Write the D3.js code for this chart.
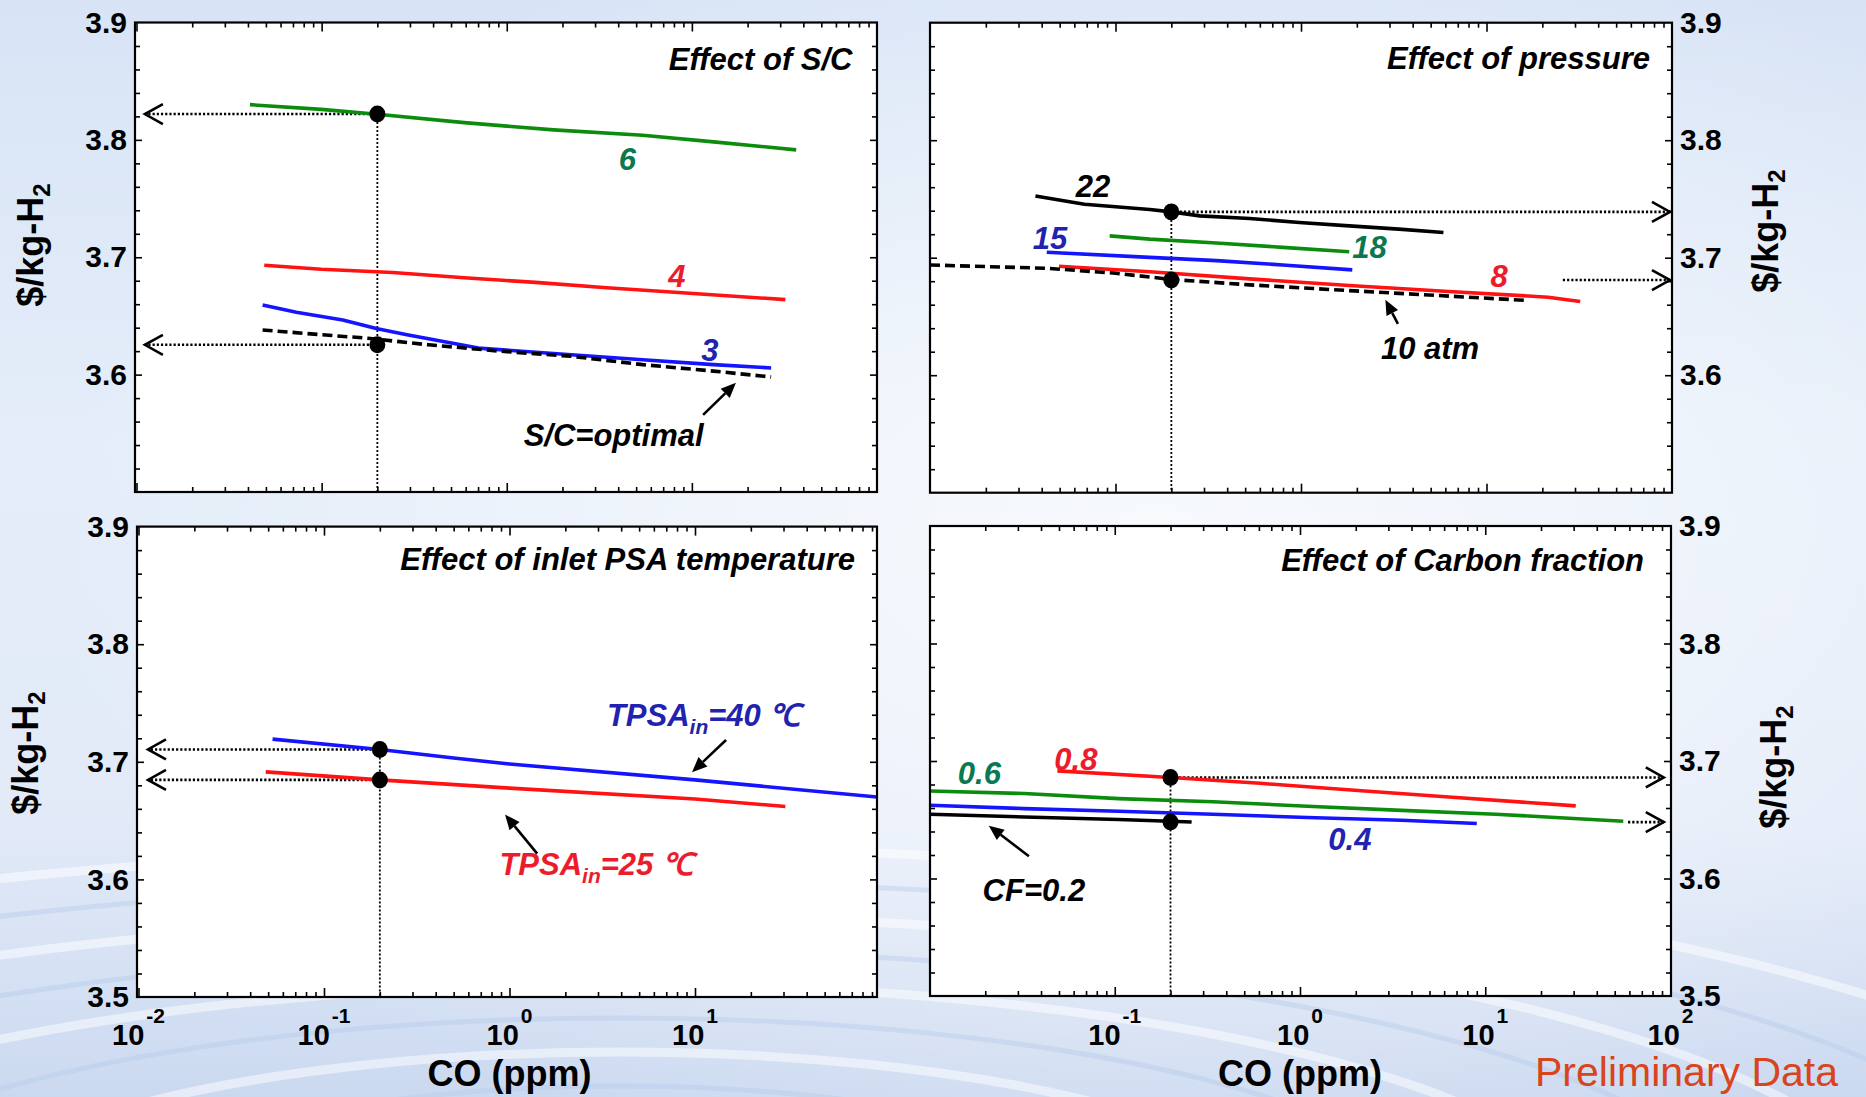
<!DOCTYPE html>
<html><head><meta charset="utf-8">
<script src="https://cdn.jsdelivr.net/npm/d3@7"></script>
<style>
html,body{margin:0;padding:0;background:#dfe8f7;overflow:hidden;}
svg{display:block;}
text{font-family:"Liberation Sans",Arial,Helvetica,sans-serif;}
</style></head><body>
<svg id="chart" width="1866" height="1097"></svg>
<script>
// ---------------- DATA ----------------
const yMajorTicks = [3.5, 3.6, 3.7, 3.8, 3.9];
const yMinorTicks = [3.52,3.54,3.56,3.58,3.62,3.64,3.66,3.68,3.72,3.74,3.76,3.78,3.82,3.84,3.86,3.88];
const xMajorTicks = [0.01, 0.1, 1, 10, 100];
const xMinorTicks = [0.02,0.03,0.04,0.05,0.06,0.07,0.08,0.09,0.2,0.3,0.4,0.5,0.6,0.7,0.8,0.9,2,3,4,5,6,7,8,9,20,30,40,50,60,70,80,90];
const xTickExponents = ["-2", "-1", "0", "1", "2"];

// Effect of S/C
const scOptCO   = [0.048, 0.0995, 0.178, 0.378, 0.918, 2.23, 5.42, 13.1, 26.8];
const scOptCost = [3.638, 3.634, 3.631, 3.6254, 3.620, 3.6156, 3.6085, 3.603, 3.598];
const sc3CO     = [0.048, 0.073, 0.13, 0.2, 0.289, 0.703, 2.23, 5.42, 13.1, 26.8];
const sc3Cost   = [3.6593, 3.6531, 3.6466, 3.639, 3.634, 3.6226, 3.617, 3.6127, 3.6085, 3.6057];
const sc4CO     = [0.049, 0.0996, 0.242, 0.589, 1.43, 3.47, 8.45, 32];
const sc4Cost   = [3.6932, 3.6898, 3.687, 3.6825, 3.6786, 3.674, 3.670, 3.6639];
const sc6CO     = [0.041, 0.0996, 0.2, 0.589, 1.79, 5.42, 13.1, 36.6];
const sc6Cost   = [3.830, 3.826, 3.8218, 3.8147, 3.8085, 3.804, 3.7983, 3.7915];
const scPointCost = [3.822, 3.6254];

// Effect of pressure
const p10CO   = [0.01, 0.0426, 0.1, 0.2, 0.528, 1.82, 6.26, 16.8];
const p10Cost = [3.6938, 3.691, 3.6868, 3.6815, 3.6769, 3.672, 3.6673, 3.6636];
const p8CO    = [0.0496, 0.153, 0.528, 1.82, 6.26, 21.5, 32];
const p8Cost  = [3.6927, 3.6881, 3.682, 3.6763, 3.6712, 3.6664, 3.6627];
const p15CO   = [0.0426, 0.153, 0.35, 0.797, 1.89];
const p15Cost = [3.7046, 3.7003, 3.6975, 3.6938, 3.6896];
const p18CO   = [0.093, 0.153, 0.35, 0.797, 1.82];
const p18Cost = [3.7186, 3.7158, 3.7125, 3.7088, 3.7051];
const p22CO   = [0.037, 0.068, 0.153, 0.2, 0.285, 0.528, 0.98, 1.82, 3.37, 5.86];
const p22Cost = [3.7525, 3.7455, 3.741, 3.739, 3.7356, 3.7334, 3.730, 3.7271, 3.7243, 3.7215];
const pPointCost = [3.739, 3.681];

// Effect of inlet PSA temperature
const t40CO   = [0.0528, 0.2, 0.5, 1, 10, 96];
const t40Cost = [3.7193, 3.7105, 3.7032, 3.6982, 3.6846, 3.670];
const t25CO   = [0.0485, 0.2, 1, 10, 30.7];
const t25Cost = [3.6914, 3.6846, 3.6776, 3.6684, 3.662];
const tPointCost = [3.7105, 3.6846];

// Effect of Carbon fraction
const cf08CO   = [0.049, 0.2, 0.608, 1.97, 6.35, 30.8];
const cf08Cost = [3.6916, 3.686, 3.681, 3.6751, 3.6694, 3.6618];
const cf06CO   = [0.01, 0.0325, 0.105, 0.339, 1.095, 3.53, 11.4, 55.6];
const cf06Cost = [3.6745, 3.6723, 3.668, 3.6653, 3.6615, 3.658, 3.6547, 3.6487];
const cf04CO   = [0.01, 0.0325, 0.105, 0.339, 1.095, 3.53, 9.0];
const cf04Cost = [3.6623, 3.6595, 3.6572, 3.6547, 3.6519, 3.6496, 3.6468];
const cf02CO   = [0.01, 0.0325, 0.105, 0.26];
const cf02Cost = [3.6547, 3.6524, 3.6502, 3.6481];
const cfPointCost = [3.686, 3.648];

const operatingCO = 0.2;

// ---------------- STYLE ----------------
const C = {
  green:"#0c8c0c", red:"#ff1212", blue:"#1414ff", black:"#000",
  lGreen:"#0a7850", lRed:"#ec1c2c", lBlue:"#2222b0"
};
const zip = (a,b)=>a.map((v,i)=>[v,b[i]]);

const W=1866,H=1097;
const svg=d3.select("#chart");
const defs=svg.append("defs");

// background
const lg=defs.append("linearGradient").attr("id","bgGrad").attr("x1",0).attr("y1",0).attr("x2",0).attr("y2",1);
[[0,"#d8e4f6"],[0.4,"#e4edf9"],[0.75,"#e2eaf8"],[1,"#cbd9f0"]].forEach(([o,c])=>lg.append("stop").attr("offset",o).attr("stop-color",c));
svg.append("rect").attr("width",W).attr("height",H).attr("fill","url(#bgGrad)");
const rg=defs.append("radialGradient").attr("id","glow").attr("cx",0.62).attr("cy",0.5).attr("r",0.6);
rg.append("stop").attr("offset",0).attr("stop-color","#ffffff").attr("stop-opacity",0.75);
rg.append("stop").attr("offset",1).attr("stop-color","#ffffff").attr("stop-opacity",0);
svg.append("rect").attr("width",W).attr("height",H).attr("fill","url(#glow)");
const waves=svg.append("g").attr("fill","none");
for(let i=0;i<9;i++){
  waves.append("ellipse").attr("cx",620).attr("cy",1230).attr("rx",380+i*150).attr("ry",110+i*34)
    .attr("stroke", i%2? "#b9cceb":"#ffffff").attr("stroke-width",i%2?5:9).attr("opacity",i%2?0.45:0.5);
}

// ---------------- PANELS ----------------
const panels = [
 { id:"sc", title:"Effect of S/C",
   frame:{l:135,r:877,t:22.5,b:492}, xr:[136.5,877], yr:[492,22.5],
   ySide:"left", yLabels:[3.6,3.7,3.8,3.9], yTitle:{x:43,y:245}, xLabels:[],
   titlePos:{dx:-24.5, y:70},
   series:[
     {co:sc6CO,cost:sc6Cost,color:C.green},
     {co:sc4CO,cost:sc4Cost,color:C.red},
     {co:sc3CO,cost:sc3Cost,color:C.blue},
     {co:scOptCO,cost:scOptCost,color:C.black,dash:"10,5"}],
   points:scPointCost, dir:"left",
   guides:[{from:operatingCO,to:0.0111,cost:scPointCost[0]},{from:operatingCO,to:0.0111,cost:scPointCost[1]}],
   labels:[
     {t:"6",co:4.48,c:3.7835,color:C.lGreen},
     {t:"4",co:8.29,c:3.684,color:C.lRed},
     {t:"3",co:12.5,c:3.621,color:C.lBlue},
     {t:"S/C=optimal",co:3.78,c:3.5487,color:C.black}],
   arrows:[{from:[11.5,3.5657],to:[17.3,3.593]}]
 },
 { id:"p", title:"Effect of pressure",
   frame:{l:930,r:1672,t:22.7,b:492.7}, xr:[930,1672], yr:[492.7,22.7],
   ySide:"right", yLabels:[3.6,3.7,3.8,3.9], yTitle:{x:1778,y:231}, xLabels:[],
   titlePos:{dx:-22, y:69},
   series:[
     {co:p22CO,cost:p22Cost,color:C.black},
     {co:p18CO,cost:p18Cost,color:C.green},
     {co:p15CO,cost:p15Cost,color:C.blue},
     {co:p8CO,cost:p8Cost,color:C.red},
     {co:p10CO,cost:p10Cost,color:C.black,dash:"10,5"}],
   points:pPointCost, dir:"right",
   guides:[{from:operatingCO,to:97.5,cost:pPointCost[0]},{from:25.8,to:97.5,cost:pPointCost[1]}],
   labels:[
     {t:"22",co:0.0756,c:3.761,color:C.black},
     {t:"15",co:0.0443,c:3.7168,color:C.lBlue},
     {t:"18",co:2.34,c:3.709,color:C.lGreen},
     {t:"8",co:11.7,c:3.6844,color:C.lRed},
     {t:"10 atm",co:4.96,c:3.6232,color:C.black}],
   arrows:[{from:[3.33,3.6436],to:[2.85,3.6642]}]
 },
 { id:"t", title:"Effect of inlet PSA temperature",
   frame:{l:137,r:877,t:526.6,b:997}, xr:[138.5,880.5], yr:[997,526.6],
   ySide:"left", yLabels:[3.5,3.6,3.7,3.8,3.9], yTitle:{x:38,y:753}, xLabels:[0.01,0.1,1,10],
   titlePos:{dx:-22, y:570},
   series:[
     {co:t40CO,cost:t40Cost,color:C.blue},
     {co:t25CO,cost:t25Cost,color:C.red}],
   points:tPointCost, dir:"left",
   guides:[{from:operatingCO,to:0.01125,cost:tPointCost[0]},{from:operatingCO,to:0.01125,cost:tPointCost[1]}],
   labels:[
     {t:"TPSA", sub:"in", rest:"=40 ℃", co:3.35, c:3.7397, color:C.lBlue, anchor:"start"},
     {t:"TPSA", sub:"in", rest:"=25 ℃", co:0.882, c:3.6134, color:C.lRed, anchor:"start"}],
   arrows:[{from:[14.7,3.7185],to:[9.64,3.6912]},{from:[1.41,3.6219],to:[0.946,3.6551]}]
 },
 { id:"cf", title:"Effect of Carbon fraction",
   frame:{l:930,r:1671,t:526,b:996}, xr:[929.5,1670.5], yr:[996,526],
   ySide:"right", yLabels:[3.5,3.6,3.7,3.8,3.9], yTitle:{x:1786,y:767}, xLabels:[0.1,1,10,100],
   titlePos:{dx:-27, y:570.5},
   series:[
     {co:cf08CO,cost:cf08Cost,color:C.red},
     {co:cf06CO,cost:cf06Cost,color:C.green},
     {co:cf04CO,cost:cf04Cost,color:C.blue},
     {co:cf02CO,cost:cf02Cost,color:C.black}],
   points:cfPointCost, dir:"right",
   guides:[{from:operatingCO,to:92,cost:cfPointCost[0]},{from:59,to:92,cost:cfPointCost[1]}],
   labels:[
     {t:"0.8",co:0.0617,c:3.702,color:C.lRed},
     {t:"0.6",co:0.0186,c:3.6896,color:C.lGreen},
     {t:"0.4",co:1.86,c:3.6336,color:C.lBlue},
     {t:"CF=0.2",co:0.0366,c:3.590,color:C.black}],
   arrows:[{from:[0.0344,3.6189],to:[0.0209,3.6449]}]
 }
];

function solidArrow(g,x1,y1,x2,y2){
  const a=Math.atan2(y2-y1,x2-x1), L=15, hw=6.5;
  const bx=x2-L*Math.cos(a), by=y2-L*Math.sin(a);
  g.append("line").attr("x1",x1).attr("y1",y1).attr("x2",bx).attr("y2",by)
   .attr("stroke","#000").attr("stroke-width",2.6);
  const px=-Math.sin(a)*hw, py=Math.cos(a)*hw;
  g.append("path").attr("d",`M${x2},${y2}L${bx+px},${by+py}L${bx-px},${by-py}Z`).attr("fill","#000");
}

panels.forEach(p=>{
  const x=d3.scaleLog().domain([0.01,100]).range(p.xr);
  const y=d3.scaleLinear().domain([3.5,3.9]).range(p.yr);
  const f=p.frame;
  const g=svg.append("g");
  g.append("rect").attr("x",f.l).attr("y",f.t).attr("width",f.r-f.l).attr("height",f.b-f.t).attr("fill","#fff");
  defs.append("clipPath").attr("id","clip-"+p.id).append("rect")
    .attr("x",f.l).attr("y",f.t).attr("width",f.r-f.l).attr("height",f.b-f.t);

  // ticks (inward) using d3 axes
  const inX=v=>x(v)>=f.l+1 && x(v)<=f.r-1;
  const tickAxis=(axisFn,scale,values,size,transform)=>{
    const a=g.append("g").attr("transform",transform)
      .call(axisFn(scale).tickValues(values).tickSize(-size).tickFormat(""));
    a.select(".domain").remove();
    a.selectAll("line").attr("stroke","#000").attr("stroke-width",1.6);
  };
  tickAxis(d3.axisBottom,x,xMajorTicks.filter(inX),9,`translate(0,${f.b})`);
  tickAxis(d3.axisBottom,x,xMinorTicks.filter(inX),5,`translate(0,${f.b})`);
  tickAxis(d3.axisTop,x,xMajorTicks.filter(inX),9,`translate(0,${f.t})`);
  tickAxis(d3.axisTop,x,xMinorTicks.filter(inX),5,`translate(0,${f.t})`);
  tickAxis(d3.axisLeft,y,yMajorTicks.slice(1,-1),7,`translate(${f.l},0)`);
  tickAxis(d3.axisLeft,y,yMinorTicks,5,`translate(${f.l},0)`);
  tickAxis(d3.axisRight,y,yMajorTicks.slice(1,-1),7,`translate(${f.r},0)`);
  tickAxis(d3.axisRight,y,yMinorTicks,5,`translate(${f.r},0)`);

  // series
  const line=d3.line().x(d=>x(d[0])).y(d=>y(d[1]));
  const cg=g.append("g").attr("clip-path",`url(#clip-${p.id})`);

  // vertical guide
  cg.append("line").attr("x1",x(operatingCO)).attr("x2",x(operatingCO))
    .attr("y1",y(p.points[0])).attr("y2",f.b)
    .attr("stroke","#000").attr("stroke-width",1.8).attr("stroke-dasharray","2,2");
  // horizontal guides
  p.guides.forEach(gd=>{
    cg.append("line").attr("x1",x(gd.from)).attr("x2",x(gd.to))
      .attr("y1",y(gd.cost)).attr("y2",y(gd.cost))
      .attr("stroke","#000").attr("stroke-width",2.6).attr("stroke-dasharray","2.2,2");
  });

  p.series.forEach(s=>{
    cg.append("path").datum(zip(s.co,s.cost)).attr("d",line)
      .attr("fill","none").attr("stroke",s.color).attr("stroke-width",3.6)
      .attr("stroke-linejoin","round")
      .attr("stroke-dasharray",s.dash||null);
  });

  // chevron heads
  p.guides.forEach(gd=>{
    const tx=x(gd.to), ty=y(gd.cost), s=p.dir==="left"?1:-1;
    g.append("path").attr("d",`M${tx+s*18},${ty-10}L${tx},${ty}L${tx+s*18},${ty+10}`)
      .attr("fill","none").attr("stroke","#000").attr("stroke-width",2.6);
  });

  // points
  p.points.forEach(c=>{
    g.append("ellipse").attr("cx",x(operatingCO)).attr("cy",y(c)).attr("rx",8).attr("ry",8.5).attr("fill","#000");
  });

  // labels
  p.labels.forEach(l=>{
    const t=g.append("text").attr("x",x(l.co)).attr("y",y(l.c)).attr("dy","0.36em")
      .attr("text-anchor",l.anchor||"middle").attr("fill",l.color)
      .attr("font-size",31).attr("font-weight","bold").attr("font-style","italic");
    t.append("tspan").text(l.t);
    if(l.sub){
      t.append("tspan").attr("font-size",21).attr("dy",8).text(l.sub);
      t.append("tspan").attr("dy",-8).text(l.rest);
    }
  });
  p.arrows.forEach(a=>solidArrow(g,x(a.from[0]),y(a.from[1]),x(a.to[0]),y(a.to[1])));

  // frame
  g.append("rect").attr("x",f.l).attr("y",f.t).attr("width",f.r-f.l).attr("height",f.b-f.t)
    .attr("fill","none").attr("stroke","#000").attr("stroke-width",2.2);

  // title
  g.append("text").attr("x",f.r+p.titlePos.dx).attr("y",p.titlePos.y).attr("text-anchor","end")
    .attr("font-size",31).attr("font-weight","bold").attr("font-style","italic").text(p.title);

  // y tick labels
  const left=p.ySide==="left";
  const ya=g.append("g").attr("transform",`translate(${left?f.l:f.r},0)`)
    .call((left?d3.axisLeft(y):d3.axisRight(y)).tickValues(p.yLabels).tickSize(0).tickPadding(8).tickFormat(d3.format(".1f")));
  ya.select(".domain").remove();
  ya.selectAll("text").attr("font-size",30).attr("font-weight","bold").attr("fill","#000")
    .attr("font-family","'Liberation Sans',Arial,sans-serif");

  // y title
  const yt=g.append("text").attr("transform",`translate(${p.yTitle.x},${p.yTitle.y}) rotate(-90)`)
    .attr("text-anchor","middle").attr("font-size",36).attr("font-weight","bold");
  yt.append("tspan").text("$/kg-H");
  yt.append("tspan").attr("font-size",24).attr("dy",7).text("2");

  // x tick labels
  if(p.xLabels.length){
    p.xLabels.forEach(v=>{
      const t=g.append("text").attr("x",x(v)).attr("y",1045).attr("text-anchor","middle")
        .attr("font-size",29).attr("font-weight","bold");
      t.append("tspan").text("10");
      t.append("tspan").attr("font-size",21).attr("dy",-22).attr("dx",2)
        .text(xTickExponents[xMajorTicks.indexOf(v)]);
    });
    g.append("text").attr("x",x(1)).attr("y",1086).attr("text-anchor","middle")
      .attr("font-size",36).attr("font-weight","bold").text("CO (ppm)");
  }
});

svg.append("text").attr("x",1535).attr("y",1086).attr("font-size",41).attr("fill","#d9441a")
  .text("Preliminary Data");
</script>
</body></html>
